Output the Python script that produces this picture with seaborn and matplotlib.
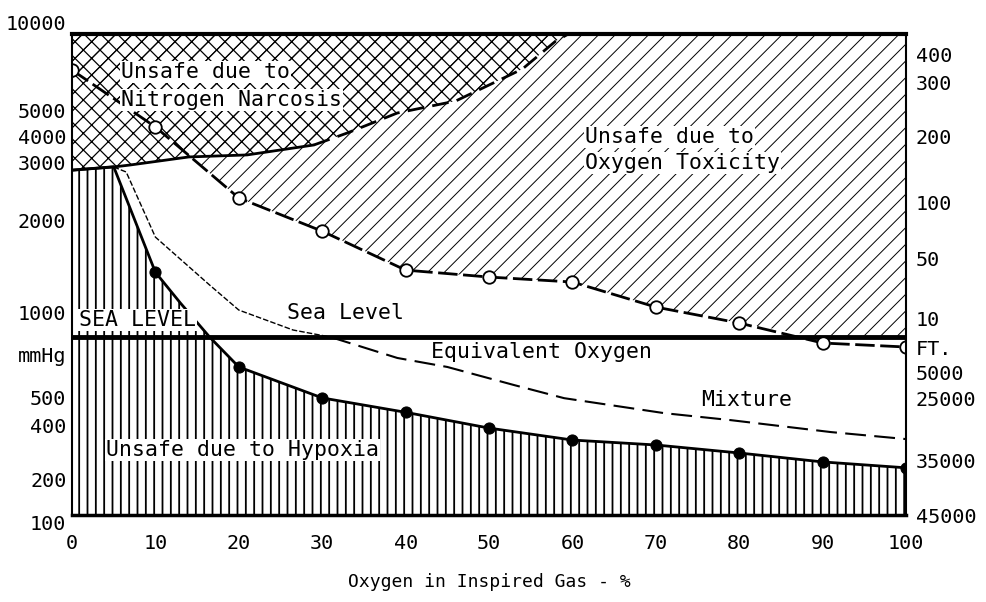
import numpy as np
import matplotlib
matplotlib.use('Agg')
import matplotlib.pyplot as plt
import seaborn as sns

# the mmHg axis of the original is hand drawn and not a clean log scale,
# so it is rebuilt from its tick values and where they sit (fraction of height)
scale_mmhg = [100, 200, 400, 500, 760, 1000, 2000, 3000, 4000, 5000, 10000]
scale_pos = [0.0, 0.073, 0.187, 0.245, 0.370, 0.422, 0.613, 0.732, 0.786, 0.842, 1.0]

left_ticks = [10000, 5000, 4000, 3000, 2000, 1000, 671, 500, 400, 200, 100]
left_labels = ['10000', '5000', '4000', '3000', '2000', '1000', 'mmHg', '500', '400', '200', '100']
right_ticks = [8260, 6400, 4000, 2270, 1500, 936, 705, 595, 496, 257, 100]
right_labels = ['400', '300', '200', '100', '50', '10', 'FT.', '5000', '25000', '35000', '45000']
oxygen_ticks = list(range(0, 101, 10))

sea_level = 760

# unsafe due to hypoxia (lower boundary, filled dots)
hyp_x = [0, 5, 10, 13, 16.5, 20, 30, 40, 50, 60, 70, 80, 90, 100]
hyp_y = [2850, 2920, 1350, 1070, 760, 617, 497, 443, 385, 331, 311, 281, 251, 233]

# unsafe due to oxygen toxicity (open circles)
tox_x = [0, 10, 20, 30, 40, 50, 60, 70, 80, 90, 100]
tox_y = [7200, 4345, 2340, 1840, 1372, 1302, 1254, 1038, 886, 729, 709]

# unsafe due to nitrogen narcosis
narc_x = [0, 5, 7, 14, 21, 29, 33, 39, 46, 54, 58, 59.5]
narc_y = [2850, 2915, 2957, 3205, 3278, 3660, 4133, 4877, 5428, 7268, 9383, 10000]

# sea level equivalent oxygen mixture
sle_x = [5, 6.5, 10, 16.5, 20, 26.5, 31, 39, 45, 53, 59, 71, 79, 91, 100]
sle_y = [2915, 2813, 1760, 1226, 1015, 821, 760, 657, 617, 544, 496, 440, 416, 366, 335]


def to_pos(p):
    p = np.clip(np.asarray(p, dtype=float), 1, None)
    return np.interp(np.log10(p), np.log10(scale_mmhg), scale_pos)


def from_pos(v):
    return 10 ** np.interp(v, scale_pos, np.log10(scale_mmhg))


sns.set_theme(style='white')
plt.rcParams['font.family'] = ['DejaVu Sans Mono']
plt.rcParams['hatch.linewidth'] = 1.0

fig = plt.figure(figsize=(9.86, 6.02), dpi=100)
ax = fig.add_axes([0.073, 0.1445, 0.846, 0.799])
ax.set_yscale('function', functions=(to_pos, from_pos))
ax.set_xlim(0, 100)
ax.set_ylim(100, 10000)

# hatched regions
hyp_fill = ax.fill_between(hyp_x, 100, hyp_y, facecolor='none', edgecolor='black',
                           hatch='||', linewidth=0)
tox_fill = ax.fill_between(tox_x, np.maximum(tox_y, sea_level), 10000, facecolor='none',
                           edgecolor='black', hatch='//', linewidth=0)
narc_fill = ax.fill_between(narc_x, narc_y, 10000, facecolor='none', edgecolor='black',
                            hatch='xx', linewidth=0)
for coll, w in [(hyp_fill, 1.3), (tox_fill, 0.7), (narc_fill, 0.9)]:
    if hasattr(coll, 'set_hatch_linewidth'):
        coll.set_hatch_linewidth(w)

ax.axhline(sea_level, color='black', lw=3.5, zorder=4)

# boundaries
hyp_marks = [i for i, v in enumerate(hyp_x) if v > 0 and v % 10 == 0]
sns.lineplot(x=hyp_x, y=hyp_y, ax=ax, color='black', lw=2, sort=False, estimator=None,
             marker='o', markersize=8, markevery=hyp_marks, markeredgecolor='black', zorder=5)
sns.lineplot(x=tox_x, y=tox_y, ax=ax, color='black', lw=2, sort=False, estimator=None,
             linestyle=(0, (7, 2)), marker='o', markersize=9, markerfacecolor='white',
             markeredgecolor='black', markeredgewidth=1.3, zorder=5)
sns.lineplot(x=narc_x[:6], y=narc_y[:6], ax=ax, color='black', lw=2, sort=False,
             estimator=None, zorder=5)
sns.lineplot(x=narc_x[5:], y=narc_y[5:], ax=ax, color='black', lw=2, sort=False,
             estimator=None, linestyle=(0, (6, 3)), zorder=5)
sns.lineplot(x=sle_x[:7], y=sle_y[:7], ax=ax, color='black', lw=1, sort=False,
             estimator=None, linestyle=(0, (4, 1.5)), zorder=5)
sns.lineplot(x=sle_x[6:], y=sle_y[6:], ax=ax, color='black', lw=1.5, sort=False,
             estimator=None, linestyle=(0, (10, 4)), zorder=5)

# labels inside the chart
box = dict(facecolor='white', edgecolor='none', pad=1)
txt = dict(fontsize=15.5, color='black', va='center', ha='left', zorder=6)
ax.text(5.9, 7073, 'Unsafe due to', bbox=box, **txt)
ax.text(5.9, 5478, 'Nitrogen Narcosis', bbox=box, **txt)
ax.text(61.5, 4000, 'Unsafe due to', bbox=box, **txt)
ax.text(61.5, 3000, 'Oxygen Toxicity', bbox=box, **txt)
ax.text(25.8, 990, 'Sea Level', **txt)
ax.text(0.8, 916, 'SEA LEVEL', bbox=box, **txt)
ax.text(43.1, 685, 'Equivalent Oxygen', **txt)
ax.text(75.4, 488, 'Mixture', **txt)
ax.text(4.1, 292, 'Unsafe due to Hypoxia', bbox=box, **txt)

# axes
ax.set_xticks(oxygen_ticks)
ax.set_xticklabels([str(v) for v in oxygen_ticks])
ax.tick_params(axis='x', direction='inout', length=6, width=1.2, color='black',
               pad=11, labelsize=14.5, labelcolor='black')
ax.set_yticks(left_ticks, left_labels)
ax.tick_params(axis='y', length=0, pad=4, labelsize=14.5, labelcolor='black')
ax.minorticks_off()
for lbl in ax.get_yticklabels():
    if lbl.get_text() == '10000':
        lbl.set_va('bottom')
    elif lbl.get_text() == '100':
        lbl.set_va('top')
ax.set_xlabel('Oxygen in Inspired Gas - %', fontsize=13, labelpad=14, color='black')
ax.set_ylabel('')

for side, w in [('top', 3), ('bottom', 2.5), ('left', 1.5), ('right', 1.5)]:
    ax.spines[side].set_linewidth(w)
    ax.spines[side].set_color('black')
    ax.spines[side].set_zorder(6)

ax2 = ax.twinx()
ax2.set_yscale('function', functions=(to_pos, from_pos))
ax2.set_ylim(100, 10000)
ax2.set_yticks(right_ticks, right_labels)
ax2.tick_params(axis='y', length=0, pad=7, labelsize=14.5, labelcolor='black')
ax2.minorticks_off()
for s in ax2.spines.values():
    s.set_visible(False)

fig.savefig('out.png', dpi=100, facecolor='white')
